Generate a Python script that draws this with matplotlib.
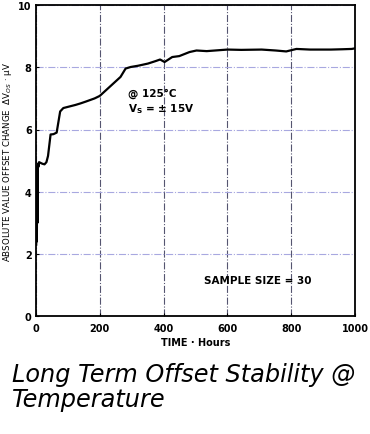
import matplotlib
matplotlib.use("Agg")
import matplotlib.pyplot as plt

hours = [1, 2, 3, 4, 5, 6, 8, 10, 20, 27, 33, 38, 46, 55, 65, 76, 86, 105, 124, 140, 157, 184, 200,
         232, 265, 281, 297, 320, 351, 375, 389, 403, 415, 427, 449, 481, 503, 535, 600, 643,
         707, 751, 784, 816, 859, 924, 960, 989, 1000]
offset = [2.3, 4.6, 2.4, 4.8, 3.0, 4.9, 4.8, 4.95, 4.9, 4.88, 4.95, 5.15, 5.84, 5.85, 5.9, 6.58, 6.69, 6.74, 6.79, 6.84, 6.9, 7.0, 7.08,
          7.38, 7.69, 7.96, 8.01, 8.05, 8.12, 8.2, 8.25, 8.17, 8.25, 8.33, 8.36, 8.49, 8.54, 8.52, 8.57, 8.56,
          8.57, 8.54, 8.51, 8.59, 8.57, 8.57, 8.58, 8.59, 8.61]
xticks = [0, 200, 400, 600, 800, 1000]
yticks = [0, 2, 4, 6, 8, 10]

fig = plt.figure(figsize=(3.7, 4.35), dpi=100)
ax = fig.add_axes([0.097, 0.271, 0.863, 0.715])
ax.plot(hours, offset, color='black', lw=1.6, zorder=3)
ax.set_xlim(0, 1000)
ax.set_ylim(0, 10)
ax.set_xticks(xticks)
ax.set_yticks(yticks)
ax.tick_params(direction='in', length=2, labelsize=7, pad=3)
ax.tick_params(axis='x', pad=5)
for lab in ax.get_xticklabels() + ax.get_yticklabels():
    lab.set_fontweight('bold')
ax.grid(True, axis='y', color='#a8a8e0', lw=0.8, linestyle='-.')
ax.grid(True, axis='x', color='#555570', lw=0.8, linestyle='-.')
for s in ax.spines.values():
    s.set_linewidth(1.3)
ax.set_xlabel('TIME · Hours', fontsize=7, fontweight='bold', labelpad=3)
ax.set_ylabel('ABSOLUTE VALUE OFFSET CHANGE  ΔV$_{OS}$ · µV', fontsize=6.2, labelpad=3)
ax.text(290, 7.1, '@ 125°C', fontsize=7.5, fontweight='bold')
ax.text(290, 6.6, 'V$_\\mathbf{S}$ = ± 15V', fontsize=7.5, fontweight='bold')
ax.text(525, 1.05, 'SAMPLE SIZE = 30', fontsize=7.5, fontweight='bold')

fig.text(0.032, 1 - 382 / 435, 'Long Term Offset Stability @', fontsize=17.3, style='italic',
         va='baseline', ha='left')
fig.text(0.032, 1 - 407 / 435, 'Temperature', fontsize=17.3, style='italic',
         va='baseline', ha='left')
fig.savefig('out.png', dpi=100)
